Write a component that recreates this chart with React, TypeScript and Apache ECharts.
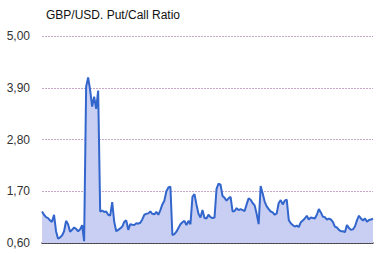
import React, { useEffect, useRef } from "react";
import * as echarts from "echarts";

const title = "GBP/USD. Put/Call Ratio";
const yTicks = [0.6, 1.7, 2.8, 3.9, 5.0];
const ratioValues = [
  1.27, 1.2, 1.15, 1.13, 1.08, 1.05, 1.2, 0.85, 0.69, 0.72,
  0.76, 0.85, 1.07, 1.0, 0.84, 0.88, 0.93, 0.9, 0.85, 0.89,
  0.98, 0.64, 3.92, 4.12, 3.85, 3.5, 3.71, 3.45, 3.84, 1.27,
  1.29, 1.26, 1.27, 1.2, 1.18, 1.47, 1.05, 0.85, 0.88, 0.91,
  0.95, 1.05, 1.08, 0.88, 1.0, 0.99, 0.98, 1.02, 1.01, 1.03,
  1.1, 1.2, 1.22, 1.23, 1.27, 1.22, 1.21, 1.26, 1.2, 1.3,
  1.42, 1.5, 1.7, 1.78, 1.8, 0.77, 0.79, 0.84, 0.92, 1.0,
  1.04, 1.07, 0.98, 1.07, 1.0, 1.58, 1.64, 1.42, 1.22, 1.14,
  1.3, 1.13, 1.12, 1.2, 1.15, 1.13, 1.14, 1.75, 1.86, 1.84,
  1.6, 1.56, 1.5, 1.55, 1.58, 1.27, 1.28, 1.34, 1.3, 1.32,
  1.3, 1.28, 1.42, 1.55, 1.52, 1.45, 1.4, 1.22, 1.0, 1.81,
  1.65, 1.48, 1.38, 1.32, 1.27, 1.25, 1.2, 1.23, 1.45, 1.51,
  1.42, 1.5, 1.52, 1.09, 1.02, 0.98, 0.95, 0.97, 0.94, 1.04,
  1.08, 1.12, 1.18, 1.1, 1.14, 1.13, 1.12, 1.2, 1.32, 1.25,
  1.16, 1.15, 1.1, 1.12, 1.1, 1.05, 0.95, 0.93, 0.88, 0.85,
  0.85, 0.83, 0.98, 0.92, 0.88, 0.89, 0.95, 1.08, 1.18, 1.12,
  1.08, 1.12, 1.05, 1.09, 1.1, 1.12,
];
const categories = ratioValues.map((_, i) => String(i + 1));

export default function App() {
  const ref = useRef<HTMLDivElement>(null);
  useEffect(() => {
    if (!ref.current) return;
    const chart = echarts.init(ref.current, null, { renderer: "svg" });
    chart.setOption({
      animation: false,
      title: {
        text: title,
        left: 41,
        top: 4,
        textStyle: {
          fontFamily: "Liberation Sans, Arial, sans-serif",
          fontSize: 12,
          fontWeight: "normal",
          color: "#111",
        },
      },
      grid: { left: 42, right: 7, top: 36, bottom: 11, containLabel: false },
      xAxis: {
        type: "category",
        data: categories,
        boundaryGap: false,
        axisLine: { show: true, lineStyle: { color: "#222", width: 1.5 } },
        axisTick: { show: false },
        axisLabel: { show: false },
        splitLine: { show: false },
      },
      yAxis: {
        type: "value",
        min: yTicks[0],
        max: yTicks[yTicks.length - 1],
        interval: 1.1,
        axisLine: { show: false },
        axisTick: { show: false },
        axisLabel: {
          margin: 12,
          fontFamily: "Liberation Sans, Arial, sans-serif",
          fontSize: 12,
          color: "#333",
          formatter: (v: number) => v.toFixed(2).replace(".", ","),
        },
        splitLine: {
          show: true,
          lineStyle: { color: "#c8a8c8", type: [2, 1], width: 1 },
        },
      },
      series: [
        {
          type: "line",
          data: ratioValues,
          symbol: "none",
          lineStyle: { color: "#3366cc", width: 2 },
          areaStyle: { color: "#c8cff2", opacity: 1 },
          z: 3,
        },
      ],
    });
    return () => chart.dispose();
  }, []);
  return <div ref={ref} style={{ width: 380, height: 254, position: "absolute", left: 0, top: 0 }} />;
}
